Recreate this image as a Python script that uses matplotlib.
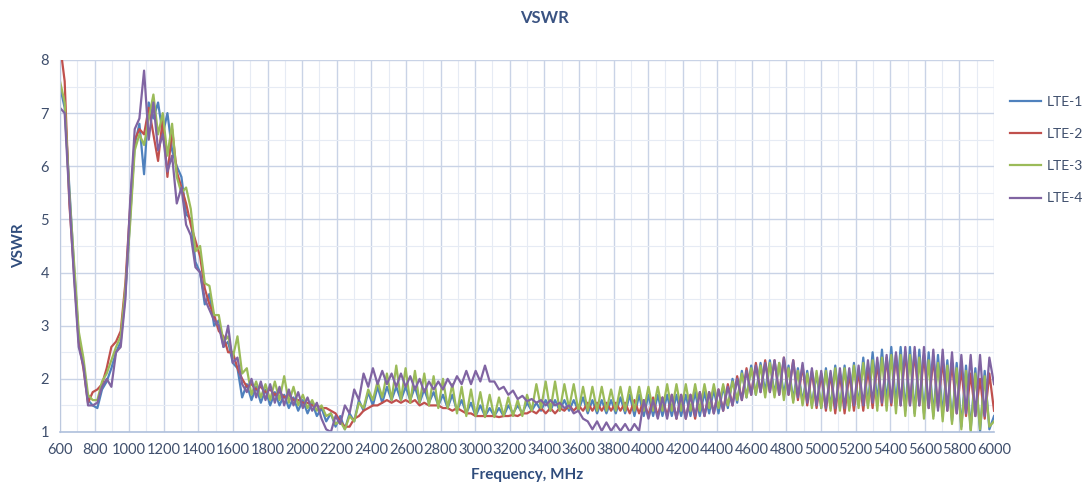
import numpy as np
import matplotlib
matplotlib.use("Agg")
import matplotlib.pyplot as plt
from matplotlib.ticker import MultipleLocator

plt.rcParams['font.family'] = ['Lato', 'DejaVu Sans']

# frequency sweep, MHz (27 MHz step, 600..6000)
freq = np.arange(600, 6001, 27)

lte1 = [
    7.5, 7.1, 5.6, 4.1, 2.8, 2.3, 1.6, 1.5, 1.45, 1.8,
    1.95, 2.2, 2.5, 2.7, 3.6, 5.0, 6.4, 6.8, 5.85, 7.2,
    6.9, 7.2, 6.6, 7.0, 6.3, 6.0, 5.8, 5.1, 5.0, 4.2,
    4.0, 3.4, 3.6, 3.0, 3.1, 2.6, 2.7, 2.3, 2.2, 1.65,
    1.9, 1.6, 1.85, 1.55, 1.8, 1.5, 1.75, 1.5, 1.7, 1.45,
    1.65, 1.4, 1.6, 1.35, 1.55, 1.3, 1.45, 1.2, 1.35, 1.1,
    1.3, 1.05, 1.35, 1.2, 1.6, 1.4, 1.75, 1.5, 1.85, 1.55,
    1.85, 1.6, 1.85, 1.6, 1.85, 1.6, 1.85, 1.55, 1.8, 1.55,
    1.75, 1.5, 1.7, 1.45, 1.7, 1.4, 1.6, 1.35, 1.55, 1.3,
    1.5, 1.3, 1.45, 1.3, 1.45, 1.3, 1.5, 1.35, 1.5, 1.35,
    1.55, 1.4, 1.55, 1.4, 1.6, 1.4, 1.6, 1.4, 1.6, 1.4,
    1.6, 1.4, 1.65, 1.35, 1.6, 1.35, 1.6, 1.35, 1.6, 1.35,
    1.65, 1.35, 1.7, 1.3, 1.7, 1.3, 1.7, 1.3, 1.7, 1.3,
    1.7, 1.3, 1.7, 1.3, 1.7, 1.3, 1.75, 1.3, 1.75, 1.35,
    1.8, 1.35, 1.85, 1.45, 2.0, 1.55, 2.15, 1.65, 2.25, 1.7,
    2.3, 1.75, 2.35, 1.7, 2.3, 1.7, 2.25, 1.6, 2.2, 1.55,
    2.15, 1.5, 2.1, 1.45, 2.2, 1.45, 2.25, 1.45, 2.25, 1.45,
    2.3, 1.5, 2.4, 1.5, 2.5, 1.55, 2.55, 1.55, 2.6, 1.5,
    2.6, 1.4, 2.6, 1.35, 2.55, 1.35, 2.5, 1.3, 2.45, 1.3,
    2.35, 1.2, 2.3, 1.1, 2.25, 1.05, 2.2, 1.0, 2.15, 1.05,
    1.3,
]
lte2 = [
    8.3, 7.6, 5.3, 4.0, 2.7, 2.2, 1.55, 1.75, 1.8, 1.9,
    2.2, 2.6, 2.7, 2.9, 3.8, 5.2, 6.5, 6.7, 6.6, 7.1,
    6.6, 6.1, 6.9, 5.8, 6.7, 5.9, 5.6, 5.3, 4.9, 4.6,
    4.3, 3.7, 3.4, 3.2, 2.9, 2.8, 2.5, 2.5, 2.2, 2.0,
    1.85, 1.9, 1.8, 1.85, 1.75, 1.8, 1.7, 1.75, 1.65, 1.7,
    1.6, 1.6, 1.55, 1.55, 1.5, 1.5, 1.45, 1.45, 1.4, 1.35,
    1.2, 1.1, 1.1, 1.25, 1.3, 1.4, 1.45, 1.5, 1.5, 1.55,
    1.6, 1.55, 1.6, 1.55, 1.6, 1.55, 1.6, 1.5, 1.55, 1.5,
    1.5, 1.5, 1.45, 1.45, 1.4, 1.45, 1.4, 1.35, 1.35, 1.3,
    1.3, 1.3, 1.3, 1.3, 1.28, 1.3, 1.3, 1.32, 1.3, 1.35,
    1.35, 1.4, 1.35, 1.45, 1.35, 1.45, 1.35, 1.45, 1.4, 1.5,
    1.4, 1.5, 1.4, 1.55, 1.4, 1.55, 1.4, 1.55, 1.4, 1.55,
    1.4, 1.55, 1.35, 1.6, 1.35, 1.6, 1.3, 1.65, 1.3, 1.65,
    1.3, 1.7, 1.25, 1.7, 1.25, 1.7, 1.25, 1.75, 1.3, 1.75,
    1.35, 1.8, 1.4, 1.9, 1.5, 2.05, 1.6, 2.2, 1.7, 2.3,
    1.75, 2.35, 1.75, 2.35, 1.7, 2.4, 1.7, 2.35, 1.6, 2.25,
    1.5, 2.15, 1.45, 2.1, 1.4, 2.1, 1.35, 2.1, 1.35, 2.1,
    1.4, 2.15, 1.4, 2.2, 1.45, 2.3, 1.5, 2.4, 1.5, 2.45,
    1.5, 2.5, 1.5, 2.5, 1.5, 2.45, 1.45, 2.4, 1.45, 2.35,
    1.4, 2.3, 1.35, 2.2, 1.3, 2.1, 1.3, 2.0, 1.25, 2.1,
    1.4,
]
lte3 = [
    7.6, 7.2, 5.5, 4.2, 2.9, 2.4, 1.7, 1.6, 1.6, 1.95,
    2.1, 2.35, 2.6, 2.8, 3.7, 4.9, 6.3, 6.6, 6.4, 6.9,
    7.35, 6.6, 7.0, 6.2, 6.8, 5.8, 5.5, 5.6, 5.2, 4.4,
    4.5, 3.8, 3.75, 3.2, 3.2, 2.7, 2.8, 2.4, 2.8, 2.1,
    2.2, 1.7, 1.95, 1.65, 1.9, 1.6, 1.95, 1.6, 2.05, 1.55,
    1.85, 1.5, 1.7, 1.45, 1.6, 1.4, 1.5, 1.3, 1.35, 1.15,
    1.2, 1.05, 1.3, 1.2, 1.55, 1.45, 1.8, 1.6, 1.95, 1.65,
    2.1, 1.6, 2.25, 1.6, 2.2, 1.55, 2.15, 1.55, 2.1, 1.5,
    2.05, 1.45, 2.0, 1.45, 1.9, 1.35, 1.85, 1.3, 1.8, 1.3,
    1.75, 1.28, 1.7, 1.28, 1.65, 1.3, 1.65, 1.3, 1.6, 1.3,
    1.7, 1.4, 1.9, 1.45, 1.95, 1.4, 1.95, 1.4, 1.9, 1.45,
    1.9, 1.4, 1.85, 1.4, 1.85, 1.4, 1.85, 1.4, 1.8, 1.4,
    1.85, 1.4, 1.85, 1.4, 1.85, 1.4, 1.85, 1.4, 1.85, 1.4,
    1.9, 1.4, 1.9, 1.4, 1.9, 1.4, 1.9, 1.4, 1.9, 1.45,
    1.9, 1.45, 1.9, 1.5, 1.95, 1.6, 2.1, 1.65, 2.2, 1.7,
    2.25, 1.65, 2.3, 1.65, 2.3, 1.6, 2.2, 1.55, 2.15, 1.5,
    2.1, 1.45, 2.15, 1.45, 2.15, 1.4, 2.2, 1.4, 2.2, 1.4,
    2.25, 1.45, 2.3, 1.45, 2.35, 1.4, 2.4, 1.4, 2.45, 1.35,
    2.45, 1.3, 2.45, 1.3, 2.4, 1.25, 2.35, 1.25, 2.3, 1.2,
    2.25, 1.15, 2.2, 1.05, 2.15, 1.0, 2.1, 1.05, 2.05, 1.1,
    1.2,
]
lte4 = [
    7.1, 7.0, 5.4, 3.9, 2.6, 2.25, 1.5, 1.5, 1.55, 1.85,
    2.0, 1.85, 2.5, 2.6, 3.5, 5.3, 6.7, 6.9, 7.8, 6.5,
    7.2, 6.3, 6.6, 5.9, 6.2, 5.3, 5.6, 4.9, 4.7, 4.1,
    4.0, 3.5, 3.3, 3.1, 3.0, 2.6, 3.0, 2.3, 2.4, 1.9,
    1.75, 2.0, 1.65, 1.95, 1.6, 1.9, 1.55, 1.85, 1.5, 1.8,
    1.5, 1.75, 1.45, 1.65, 1.4, 1.55, 1.25, 1.05, 1.0, 1.3,
    1.15, 1.5, 1.35, 1.8, 1.6, 2.1, 1.85, 2.2, 1.9, 2.15,
    1.9, 2.1, 1.85, 2.1, 1.85, 2.05, 1.8, 2.0, 1.75, 1.95,
    1.8, 1.95, 1.8, 2.0, 1.85, 2.05, 1.9, 2.15, 1.9, 2.15,
    1.95, 2.25, 1.95, 1.95, 1.8, 1.85, 1.7, 1.78, 1.62, 1.68,
    1.58, 1.62, 1.55, 1.6, 1.5, 1.6, 1.5, 1.55, 1.45, 1.5,
    1.35, 1.4, 1.25, 1.2, 1.05, 1.2, 1.02, 1.18, 1.02, 1.15,
    1.02, 1.15, 1.0, 1.15, 1.02, 1.6, 1.25, 1.6, 1.25, 1.65,
    1.25, 1.7, 1.25, 1.7, 1.25, 1.7, 1.3, 1.75, 1.3, 1.75,
    1.35, 1.8, 1.4, 1.85, 1.5, 2.0, 1.6, 2.15, 1.7, 2.25,
    1.75, 2.3, 1.75, 2.35, 1.7, 2.4, 1.7, 2.35, 1.65, 2.3,
    1.55, 2.2, 1.5, 2.15, 1.45, 2.15, 1.45, 2.2, 1.45, 2.2,
    1.5, 2.25, 1.5, 2.35, 1.55, 2.4, 1.55, 2.45, 1.55, 2.5,
    1.5, 2.6, 1.5, 2.6, 1.5, 2.6, 1.45, 2.55, 1.4, 2.55,
    1.4, 2.5, 1.35, 2.45, 1.35, 2.45, 1.3, 2.45, 1.3, 2.4,
    1.9,
]
labels = ['LTE-1', 'LTE-2', 'LTE-3', 'LTE-4']
colors = ['#4F81BD', '#C0504D', '#9BBB59', '#8064A2']

fig = plt.figure(figsize=(10.89, 4.9), dpi=100)
ax = fig.add_axes([0.0551, 0.1184, 0.8577, 0.7592])

for vals, lab, col in zip([lte1, lte2, lte3, lte4], labels, colors):
    ax.plot(freq, vals, color=col, lw=1.6, label=lab)

ax.set_xlim(600, 6000)
ax.set_ylim(1, 8)
ax.xaxis.set_major_locator(MultipleLocator(200))
ax.xaxis.set_minor_locator(MultipleLocator(100))
ax.yaxis.set_major_locator(MultipleLocator(1))
ax.yaxis.set_minor_locator(MultipleLocator(0.5))
ax.grid(which='major', color='#C9D3E6', lw=1.0)
ax.grid(which='minor', color='#E6EBF4', lw=0.8)
ax.set_axisbelow(True)

for s in ['top', 'right']:
    ax.spines[s].set_visible(False)
ax.spines['left'].set_color('#BCC8DE')
ax.spines['bottom'].set_color('#AFC0DC')
ax.spines['bottom'].set_linewidth(1.2)
ax.tick_params(which='both', length=0, labelsize=10.5, labelcolor='#3E4E6C', pad=8)

fig.text(0.5, 0.963, 'VSWR', ha='center', va='center', fontsize=12,
         fontweight='bold', color='#3A5382')
ax.set_xlabel('Frequency, MHz', fontsize=11, fontweight='bold', color='#2F4C7C', labelpad=8)
ax.set_ylabel('VSWR', fontsize=11, fontweight='bold', color='#2F4C7C', labelpad=10)

leg = fig.legend(loc='upper left', bbox_to_anchor=(0.927, 0.804), frameon=False,
                 fontsize=10, handlelength=2.3, labelspacing=1.45, handletextpad=0.35,
                 borderaxespad=0, borderpad=0)
for t in leg.get_texts():
    t.set_color('#3E4E6C')

fig.savefig('out.png', dpi=100)
